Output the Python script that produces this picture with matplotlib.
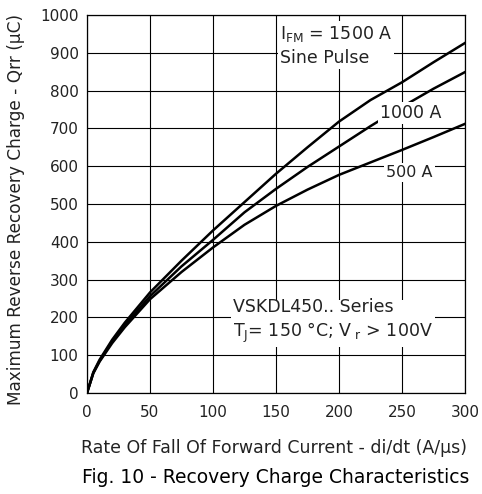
import matplotlib
matplotlib.use('Agg')
import matplotlib.pyplot as plt

plt.rcParams['font.family'] = ['DejaVu Sans']
plt.rcParams['mathtext.fontset'] = 'dejavusans'

# values
didt = [0, 5, 10, 20, 30, 50, 75, 100, 125, 150, 175, 200, 225, 250, 275, 300]
q_1500 = [0, 55, 88, 141, 186, 266, 350, 430, 505, 580, 650, 718, 775, 822, 875, 926]
q_1000 = [0, 53, 85, 137, 180, 256, 335, 405, 478, 540, 598, 652, 706, 757, 805, 849]
q_500 = [0, 52, 83, 132, 174, 248, 320, 385, 445, 495, 538, 577, 610, 643, 677, 712]

xticks = [0, 50, 100, 150, 200, 250, 300]
yticks = [0, 100, 200, 300, 400, 500, 600, 700, 800, 900, 1000]

fig = plt.figure(figsize=(4.82, 4.94), dpi=100)
ax = fig.add_axes([0.1805, 0.2045, 0.7842, 0.7651])

for q in (q_1500, q_1000, q_500):
    ax.plot(didt, q, color='black', linewidth=1.8, zorder=2)

ax.set_xlim(0, 300)
ax.set_ylim(0, 1000)
ax.set_xticks(xticks)
ax.set_yticks(yticks)
ax.grid(True, color='black', linewidth=0.8, zorder=0)
ax.set_axisbelow(True)
ax.tick_params(length=0, labelsize=11, colors='#222222')
ax.tick_params(axis='x', pad=9)
ax.tick_params(axis='y', pad=6)
for s in ax.spines.values():
    s.set_linewidth(0.9)

box = dict(facecolor='white', edgecolor='none', pad=1.5)
ax.text(153, 975, r'$\mathregular{I_{FM}}$ = 1500 A' + '\nSine Pulse', fontsize=12.5,
        ha='left', va='top', bbox=box, zorder=3, linespacing=1.35, color='#222222')
ax.text(257, 741, '1000 A', fontsize=12.5, ha='center', va='center', bbox=box, zorder=3,
        color='#222222')
ax.text(256, 584, '500 A', fontsize=11.5, ha='center', va='center', bbox=box, zorder=3,
        color='#222222')
ax.text(116, 190, 'VSKDL450.. Series\n' + r'$\mathregular{T_J}$= 150 °C; V$\mathregular{_{\ r}}$ > 100V',
        fontsize=12.5, ha='left', va='center', bbox=box, zorder=3, linespacing=1.3,
        color='#222222')

fig.text(16 / 482, 1 - 209 / 494, 'Maximum Reverse Recovery Charge - Qrr (μC)', fontsize=12.2,
         rotation=90, ha='center', va='center', color='#222222')
fig.text(274 / 482, 1 - 448 / 494, 'Rate Of Fall Of Forward Current - di/dt (A/μs)', fontsize=12.5,
         ha='center', va='center', color='#222222')
fig.text(276 / 482, 1 - 477 / 494, 'Fig. 10 - Recovery Charge Characteristics', fontsize=13.5,
         ha='center', va='center', color='black')

fig.savefig('out.png', dpi=100)
